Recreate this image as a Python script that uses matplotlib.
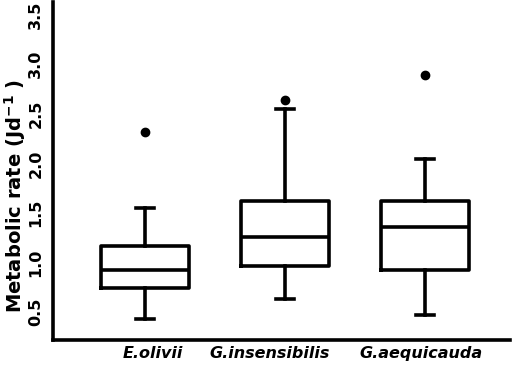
import matplotlib
matplotlib.use('Agg')
import matplotlib.pyplot as plt
import matplotlib.transforms as mtransforms

plt.rcParams['font.family'] = ['DejaVu Sans']

species = ['E.olivii', 'G.insensibilis', 'G.aequicauda']
whislo = [0.43, 0.63, 0.47]
q1 = [0.745, 0.968, 0.924]
med = [0.924, 1.26, 1.36]
q3 = [1.167, 1.624, 1.624]
whishi = [1.553, 2.55, 2.045]
outliers = [[2.32], [2.64], [2.89]]

stats = []
for i in range(len(species)):
    stats.append(dict(label=species[i], whislo=whislo[i], q1=q1[i], med=med[i],
                      q3=q3[i], whishi=whishi[i], fliers=outliers[i]))

fig = plt.figure(figsize=(5.12, 3.72), dpi=100)
ax = fig.add_axes([0.1035, 0.086, 0.8925, 0.909])

lw = 2.6
ax.bxp(stats, positions=[1, 2, 3], widths=0.63, capwidths=0.13,
       boxprops=dict(color='black', linewidth=lw),
       medianprops=dict(color='black', linewidth=lw),
       whiskerprops=dict(color='black', linewidth=lw),
       capprops=dict(color='black', linewidth=lw),
       flierprops=dict(marker='o', markerfacecolor='black', markeredgecolor='black',
                       markersize=6))

ax.set_xlim(0.343, 3.607)
ax.set_ylim(0.217, 3.63)
ax.set_yticks([0.5, 1.0, 1.5, 2.0, 2.5, 3.0, 3.5])
ax.set_yticklabels(['0.5', '1.0', '1.5', '2.0', '2.5', '3.0', '3.5'],
                   rotation=90, va='center', fontsize=11.5, fontweight='bold')
ax.set_xticks([1, 2, 3])
ax.set_xticklabels(species, fontsize=11.5, fontweight='bold', style='italic')
ax.tick_params(axis='both', length=0)
ax.tick_params(axis='y', pad=7)
ax.tick_params(axis='x', pad=4)

# the reference labels sit a little off the box centres
shifts = [8, -15, -4]
for lab, dx in zip(ax.get_xticklabels(), shifts):
    lab.set_transform(lab.get_transform() +
                      mtransforms.ScaledTranslation(dx / 100, 0, fig.dpi_scale_trans))

ax.spines['top'].set_visible(False)
ax.spines['right'].set_visible(False)
ax.spines['left'].set_linewidth(2.6)
ax.spines['bottom'].set_linewidth(2.6)

ax.set_ylabel('Metabolic rate (Jd$^{\\mathbf{-1}}$ )', fontsize=14, fontweight='bold',
              va='center')
ax.yaxis.set_label_coords(-0.083, 0.426)

fig.savefig('out.png', dpi=100)
